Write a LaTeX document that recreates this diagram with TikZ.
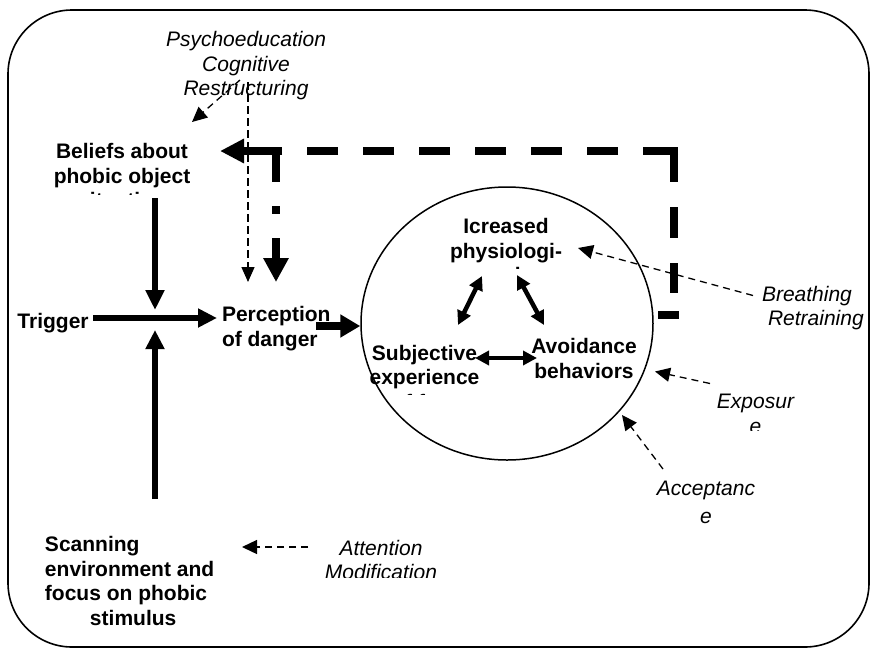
\documentclass[tikz,border=0pt]{standalone}
\usepackage{fontspec}
\setmainfont{Liberation Sans}
\usetikzlibrary{arrows.meta,shapes.geometric}

\begin{document}
\begin{tikzpicture}[x=1pt,y=-1pt,
    box/.style={font=\bfseries\fontsize{21}{24.5}\selectfont, inner sep=0pt, outer sep=0pt, align=center, anchor=north},
    tool/.style={font=\itshape\fontsize{21}{24.5}\selectfont, inner sep=0pt, outer sep=0pt, align=center, anchor=north},
    fat/.style={line width=6pt, -{Triangle[length=19pt,width=18pt]}},
    twoway/.style={line width=4.5pt, {Triangle[length=14pt,width=14pt]}-{Triangle[length=14pt,width=14pt]}},
    hint/.style={line width=1.3pt, dash pattern=on 7pt off 5pt, -{Triangle[length=15pt,width=14pt]}},
    loopline/.style={line width=8pt}]
  \useasboundingbox (0,0) rectangle (876,649);
  \draw[line width=1.6pt, rounded corners=64pt] (8,10) rectangle (869,647);
  \node[draw, ellipse, line width=1.5pt, inner sep=0pt, minimum width=292pt, minimum height=273pt] (circ) at (507,323.5) {};

  % boxes
  \path
    (246,31.7) node[tool] (psycho) {Psychoeducation\\Cognitive\\Restructuring}
    (53,313.3) node[box] (trigger) {Trigger}
    (222,306.7) node[box, anchor=north west, align=left] (perception) {Perception\\of danger}
    (584,338.3) node[box] (avoidance) {Avoidance\\behaviors}
    (45,536.3) node[box, anchor=north west, align=left] (scanning) {Scanning\\environment and\\focus on phobic\\\hspace*{45pt}stimulus}
    (762,286) node[tool, anchor=north west, align=left] (breathing) {Breathing\\\hspace*{6pt}Retraining}
    (706,480.7) node[tool] (acceptance) {Acceptanc\\[4pt]e};
  \begin{scope}
    \clip (30,130) rectangle (215,194);
    \node[box] (beliefs) at (122,143.3) {Beliefs about\\phobic object\\situation};
  \end{scope}
  \begin{scope}
    \clip (440,210) rectangle (575,268);
    \node[box] (icreased) at (506,218.3) {Icreased\\physiologi-\\cal};
  \end{scope}
  \begin{scope}
    \clip (362,335) rectangle (490,394);
    \node[box] (subjective) at (424.5,345) {Subjective\\experience\\of fear};
  \end{scope}
  \begin{scope}
    \clip (700,385) rectangle (810,430);
    \node[tool] (exposure) at (755.5,394.3) {Exposur\\e};
  \end{scope}
  \begin{scope}
    \clip (310,530) rectangle (450,577);
    \node[tool] (attention) at (381,540) {Attention\\Modification};
  \end{scope}

  % connector ends
  \coordinate (cross) at (155,318);
  \coordinate (trigout) at (93,318);
  \coordinate (percin) at (217,318);
  \coordinate (beliefsout) at (155,198);
  \coordinate (scanout) at (155,499);
  \coordinate (percout) at (316,326);
  \coordinate (fbfoot) at (674,293);
  \coordinate (fbtop) at (674,147);
  \coordinate (fbcorner) at (678,151);
  \coordinate (fbtip) at (220,151);
  \coordinate (fbT) at (276,151);
  \coordinate (fbdown) at (276,282);

  \begin{scope}
    \draw[fat] (trigout) -- (percin);
    \draw[fat, -{Triangle[length=20pt,width=18pt]}] (beliefsout) -- ([yshift=8pt]cross);
    \draw[fat] (scanout) -- ([yshift=-12pt]cross);
    \draw[fat, line width=8pt, -{Triangle[length=20pt,width=22pt]}] (percout) -- (percout -| circ.west);
  \end{scope}

  \begin{scope}
    \draw[twoway] (482,276) -- (458,325);
    \draw[twoway] (517,275) -- (544,325);
    \draw[twoway] (475,358) -- (537,358);
  \end{scope}

  % feedback loop
  \begin{scope}[loopline]
    \draw (658,315) -- (679,315);
    \draw[dash pattern=on 35pt off 25pt on 31pt off 25pt on 40pt off 10pt] (fbtop) -- (fbfoot);
    \draw[dash pattern=on 35pt off 25pt on 31pt off 25pt on 31pt off 25pt on 31pt off 25pt on 31pt off 25pt on 31pt off 25pt on 31pt off 25pt on 60pt off 10pt,
          -{Triangle[length=24pt,width=23pt]}] (fbcorner) -- (fbtip);
    \draw[dash pattern=on 31pt off 24pt on 8pt off 24pt on 80pt off 10pt,
          -{Triangle[length=24pt,width=24pt]}] (fbT) -- (fbdown);
  \end{scope}

  \begin{scope}
    \draw[hint] (240,80) -- (192,122);
    \draw[hint, dash pattern=on 8pt off 4pt, -{Triangle[length=15pt,width=13pt]}] (248,82) -- (248,282);
    \draw[hint] (753,295.5) -- (578,248);
    \draw[hint] (710,383.5) -- (655,371.5);
    \draw[hint] (663,469) -- (622,415);
    \draw[hint] (308,547) -- (242,547);
  \end{scope}
\end{tikzpicture}
\end{document}
